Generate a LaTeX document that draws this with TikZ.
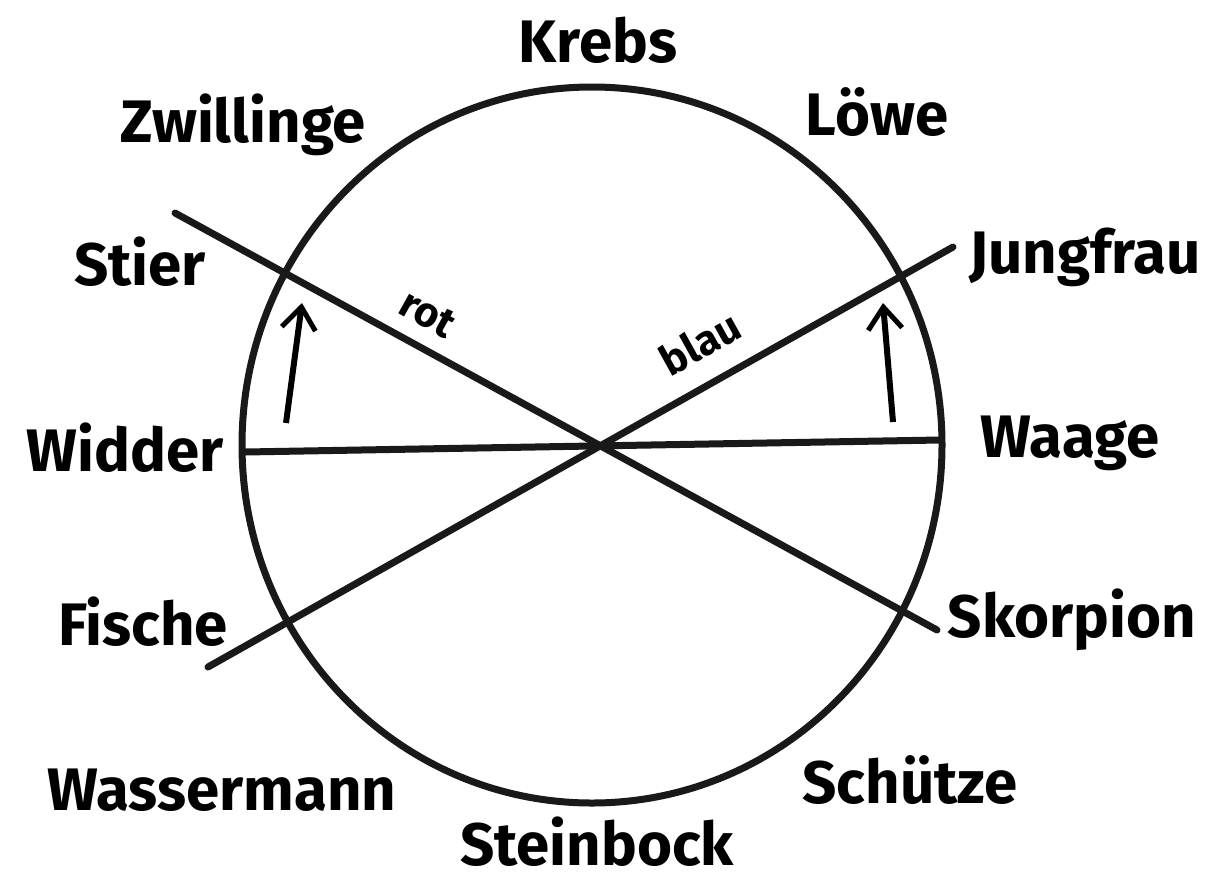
\documentclass[tikz,border=0pt]{standalone}
\usepackage{fontspec}
\setmainfont{Fira Sans}
\usetikzlibrary{arrows.meta,shapes.geometric}
\begin{document}
\begin{tikzpicture}[x=1pt,y=-1pt,
  chalk/.style={line width=7pt,black!90,line cap=round},
  sign/.style={font=\fontsize{60}{66}\selectfont\bfseries,inner sep=0pt,anchor=center},
  small/.style={font=\fontsize{42}{48}\selectfont\bfseries,inner sep=0pt,anchor=center},
  uparrow/.style={line width=6pt,black,-{Straight Barb[length=22pt,width=34pt,line width=5pt]}}]
\useasboundingbox[fill=white] (0,0) rectangle (1222,887);
% circle
\node[draw,chalk,ellipse,minimum width=700pt,minimum height=716pt,inner sep=0pt] (c) at (592,445) {};
% line endpoints
\coordinate (r1) at (175,213);
\coordinate (r2) at (937,630);
\coordinate (b1) at (208,667);
\coordinate (b2) at (953,247);
\coordinate (h1) at (245,452);
\coordinate (h2) at (940,440);
\coordinate (la1) at (286,423);
\coordinate (la2) at (302,303);
\coordinate (ra1) at (893,422);
\coordinate (ra2) at (883,303);
\draw[chalk] (r1) -- (r2);
\draw[chalk] (b1) -- (b2);
\draw[chalk] (h1) -- (h2);
\draw[uparrow] (la1) -- (la2);
\draw[uparrow] (ra1) -- (ra2);
% line labels
\node[small,rotate=-29] (rot) at (428,314) {rot};
\node[small,rotate=29] (blau) at (700,343) {blau};
% sign labels
\node[sign] (krebs) at (598,40) {Krebs};
\node[sign] (loewe) at (877,112) {Löwe};
\node[sign] (zwillinge) at (243,125) {Zwillinge};
\node[sign] (stier) at (140,262) {Stier};
\node[sign] (jungfrau) at (1085,257) {Jungfrau};
\node[sign] (widder) at (125,448) {Widder};
\node[sign] (waage) at (1070,443) {Waage};
\node[sign] (fische) at (143,622) {Fische};
\node[sign] (skorpion) at (1072,620) {Skorpion};
\node[sign] (wassermann) at (222,790) {Wassermann};
\node[sign] (schuetze) at (910,780) {Schütze};
\node[sign] (steinbock) at (597,842) {Steinbock};
\end{tikzpicture}
\end{document}
